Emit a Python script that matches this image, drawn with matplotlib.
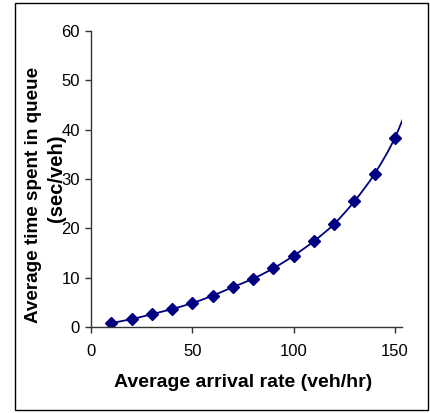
import numpy as np
import matplotlib
matplotlib.use("Agg")
import matplotlib.pyplot as plt
from matplotlib.path import Path
from matplotlib.patches import PathPatch, Rectangle

# Arrival rate (veh/hr) and average queue delay (sec/veh)
arrival_rate = [10, 20, 30, 40, 50, 60, 70, 80, 90, 100, 110, 120, 130, 140, 150, 160]
queue_time = [0.8, 1.6, 2.6, 3.65, 4.85, 6.35, 8.1, 9.8, 11.9, 14.45, 17.4, 20.9, 25.5, 31.1, 38.4, 48.6]
marker_count = 15  # last value lies past the visible axis range

x_ticks = [0, 50, 100, 150]
y_ticks = [0, 10, 20, 30, 40, 50, 60]

navy = "#000080"
plt.rcParams["font.family"] = ["Liberation Sans", "DejaVu Sans"]

fig = plt.figure(figsize=(4.31, 4.13), dpi=100)
ax = fig.add_axes([0.2111, 0.2082, 0.7209, 0.7168])

# Smoothed line through the points (Catmull-Rom style cubic Bezier segments)
pts = np.column_stack([arrival_rate, queue_time]).astype(float)
verts = [tuple(pts[0])]
codes = [Path.MOVETO]
n = len(pts)
for i in range(n - 1):
    p0 = pts[i - 1] if i > 0 else pts[i]
    p1 = pts[i]
    p2 = pts[i + 1]
    p3 = pts[i + 2] if i + 2 < n else pts[i + 1]
    c1 = p1 + (p2 - p0) / 6.0
    c2 = p2 - (p3 - p1) / 6.0
    verts += [tuple(c1), tuple(c2), tuple(p2)]
    codes += [Path.CURVE4] * 3
ax.add_patch(PathPatch(Path(verts, codes), facecolor="none", edgecolor=navy, lw=1.3))

ax.plot(arrival_rate[:marker_count], queue_time[:marker_count], linestyle="none",
        marker="D", markersize=6.5, color=navy, markeredgecolor=navy)

ax.set_xlim(0, 153.3)
ax.set_ylim(0, 60)
ax.set_xticks(x_ticks)
ax.set_yticks(y_ticks)
ax.spines["top"].set_visible(False)
ax.spines["right"].set_visible(False)
for s in ("left", "bottom"):
    ax.spines[s].set_color("#333333")
    ax.spines[s].set_linewidth(1.0)
ax.tick_params(direction="out", length=4, width=1.0, color="#333333",
               labelsize=12, pad=4)
ax.tick_params(axis="x", pad=8)

fig.text(0.565, 0.073, "Average arrival rate (veh/hr)", ha="center", va="center",
         fontsize=14, fontweight="bold")
fig.text(0.0777, 0.528, "Average time spent in queue", ha="center", va="center",
         rotation=90, fontsize=13.6, fontweight="bold")
fig.text(0.131, 0.569, "(sec/veh)", ha="center", va="center",
         rotation=90, fontsize=14.5, fontweight="bold")

fig.patches.append(Rectangle((15 / 431, 3 / 413), 413 / 431, 407 / 413,
                             transform=fig.transFigure, fill=False,
                             edgecolor="black", lw=1.0))

fig.savefig("out.png", dpi=100)
